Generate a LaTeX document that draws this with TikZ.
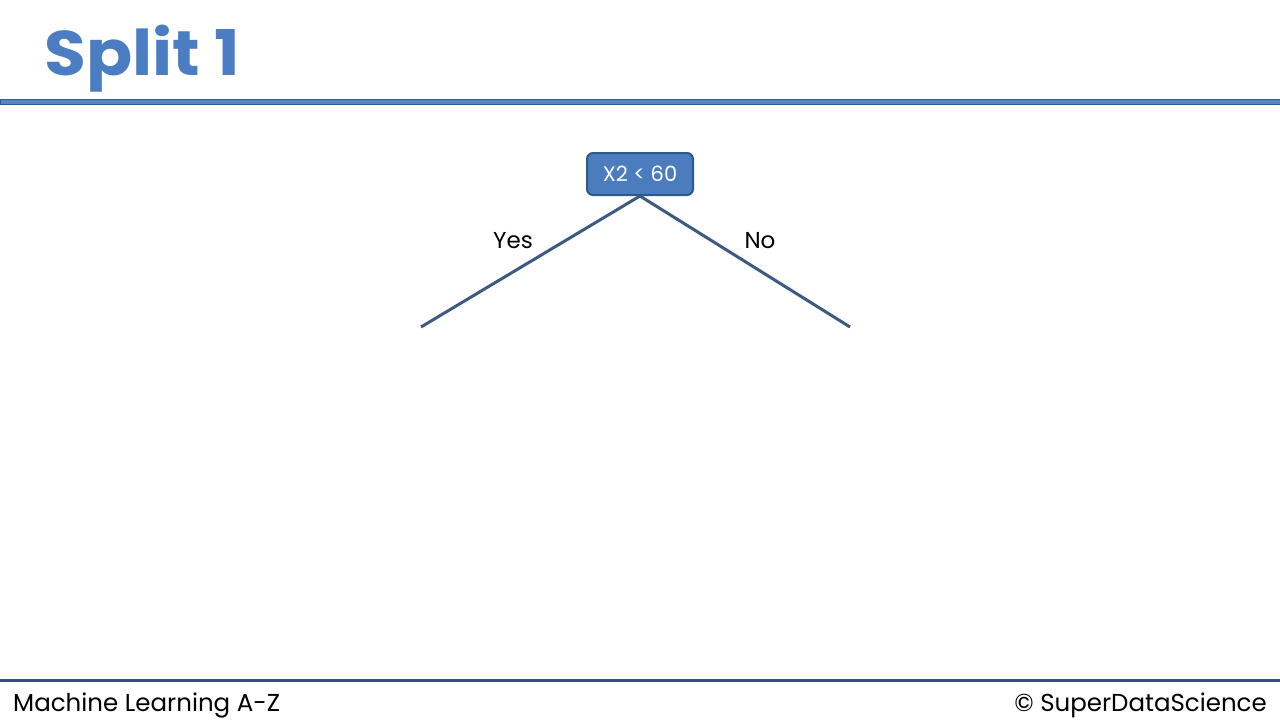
\documentclass[tikz,border=0pt]{standalone}
\usepackage{fontspec}
\setmainfont{Poppins}
\definecolor{titleblue}{HTML}{4A7DC2}
\definecolor{bandblue}{HTML}{5585C8}
\definecolor{bandedge}{HTML}{2E5A8E}
\definecolor{nodefill}{HTML}{4B7CBE}
\definecolor{nodeedge}{HTML}{2B5A8C}
\definecolor{branch}{HTML}{3D5A80}
\definecolor{footline}{HTML}{34507A}
\tikzset{
  decision/.style={draw=nodeedge, line width=2pt, fill=nodefill, rounded corners=6pt,
    minimum width=106pt, minimum height=42pt, inner sep=0pt, text=white,
    font=\fontsize{21}{21}\selectfont},
  branchline/.style={draw=branch, line width=3pt},
  blabel/.style={font=\fontsize{23}{23}\selectfont, text=black, inner sep=0pt},
  foot/.style={font=\fontsize{24.5}{24.5}\selectfont, text=black, inner sep=0pt}
}
\begin{document}
\begin{tikzpicture}[x=1pt,y=-1pt]
\useasboundingbox (0,0) rectangle (1280,720);
\fill[white] (0,0) rectangle (1280,720);
% title
\node[anchor=base west, inner sep=0pt, text=titleblue, xscale=1.08, font=\fontsize{63}{63}\selectfont\bfseries] (title) at (44,75) {Split 1};
% top band
\draw[fill=bandblue, draw=bandedge, line width=1pt] (0,99.5) rectangle (1280,104.5);
% decision node
\node[decision] (root) at (640,174) {X2 < 60};
\coordinate (l) at (421,327);
\coordinate (r) at (850,327);
\draw[branchline] (root.south) -- (l);
\draw[branchline] (root.south) -- (r);
\node[blabel] (yes) at (513,241) {Yes};
\node[blabel] (no) at (760,241) {No};
% footer
\draw[footline, line width=2.2pt] (0,680.5) -- (1280,680.5);
\node[foot, anchor=base west] (ml) at (13,711) {Machine Learning A-Z};
\node[foot, anchor=base east] (sds) at (1267,711) {© SuperDataScience};
\end{tikzpicture}
\end{document}
